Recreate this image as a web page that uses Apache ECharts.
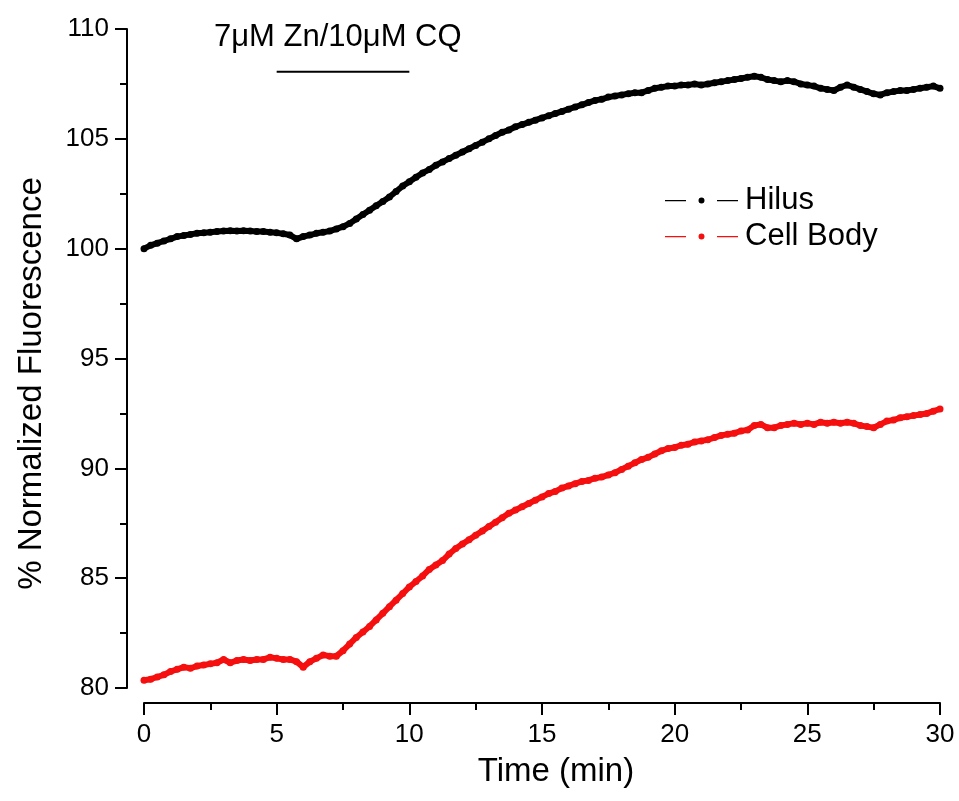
<!DOCTYPE html>
<html>
<head>
<meta charset="utf-8">
<script src="https://cdn.jsdelivr.net/npm/echarts@6/dist/echarts.min.js"></script>
<style>html,body{margin:0;padding:0;background:#fff}#c{width:959px;height:801px}</style>
</head>
<body>
<div id="c"></div>
<script>
// time step of samples (min)
const times = [];
for (let i = 0; i <= 120; i++) times.push(i * 0.25);

const hilus = [
 100.0,100.15,100.25,100.35,100.45,100.55,100.6,100.65,100.7,100.72,
 100.75,100.78,100.8,100.82,100.8,100.82,100.8,100.78,100.78,100.75,
 100.72,100.68,100.62,100.45,100.55,100.62,100.7,100.75,100.8,100.9,
 101.0,101.15,101.35,101.55,101.75,101.95,102.15,102.35,102.6,102.85,
 103.05,103.25,103.45,103.6,103.8,103.95,104.1,104.25,104.4,104.55,
 104.7,104.85,105.0,105.15,105.3,105.4,105.55,105.65,105.75,105.85,
 105.95,106.05,106.15,106.25,106.35,106.45,106.55,106.65,106.75,106.8,
 106.9,106.95,107.0,107.05,107.1,107.1,107.2,107.3,107.35,107.4,
 107.4,107.45,107.45,107.5,107.45,107.5,107.55,107.6,107.65,107.7,
 107.75,107.8,107.85,107.8,107.7,107.65,107.6,107.65,107.6,107.5,
 107.45,107.4,107.3,107.25,107.2,107.35,107.45,107.35,107.25,107.15,
 107.05,107.0,107.1,107.15,107.2,107.2,107.25,107.3,107.35,107.4,
 107.3
];
const cellBody = [
 80.35,80.4,80.5,80.6,80.75,80.85,80.95,80.9,81.0,81.05,
 81.1,81.15,81.3,81.15,81.25,81.3,81.25,81.3,81.3,81.4,
 81.35,81.3,81.3,81.2,80.95,81.2,81.35,81.5,81.45,81.45,
 81.7,82.0,82.3,82.55,82.8,83.1,83.4,83.7,84.0,84.3,
 84.6,84.85,85.1,85.4,85.6,85.8,86.1,86.35,86.55,86.75,
 86.95,87.15,87.35,87.55,87.75,87.95,88.1,88.25,88.4,88.55,
 88.7,88.85,88.95,89.1,89.2,89.3,89.4,89.45,89.55,89.6,
 89.7,89.8,89.95,90.1,90.25,90.4,90.5,90.65,90.8,90.9,
 90.95,91.05,91.1,91.2,91.25,91.3,91.4,91.5,91.55,91.6,
 91.7,91.75,91.95,92.0,91.85,91.85,91.95,92.0,92.05,92.0,
 92.05,92.0,92.1,92.05,92.1,92.05,92.1,92.05,91.95,91.9,
 91.85,92.0,92.15,92.2,92.3,92.35,92.4,92.45,92.5,92.6,
 92.7
];
// stimulus bar (min) and its level
const stimTimes = [5, 10];
const stimLevel = 108.05;
const stimText = '7\u03bcM Zn/10\u03bcM CQ';
const seriesNames = ['Hilus', 'Cell Body'];

const FONT = '"Liberation Sans", Arial, sans-serif';
const legendIcon = 'path://M0,3.4h21v1.3h-21z M33.5,4a3,3 0 1,0 6,0a3,3 0 1,0 -6,0z M52,3.4h21v1.3h-21z';

function pair(xs, ys) { return xs.map((x, i) => [x, ys[i]]); }

const chart = echarts.init(document.getElementById('c'), null, {renderer: 'canvas'});
const axisCommon = {
  axisLine: {show: true, onZero: false, lineStyle: {color: '#000', width: 2}},
  axisTick: {show: true, inside: false, length: 12, lineStyle: {color: '#000', width: 2}},
  minorTick: {show: true, splitNumber: 2, length: 7, lineStyle: {color: '#000', width: 2}},
  splitLine: {show: false},
  axisLabel: {color: '#000', fontSize: 26, fontFamily: FONT},
  nameTextStyle: {color: '#000', fontSize: 33, fontFamily: FONT}
};
chart.setOption({
  animation: false,
  backgroundColor: '#fff',
  grid: {left: 144, right: 19, top: 29, bottom: 113, containLabel: false},
  xAxis: Object.assign({}, axisCommon, {
    type: 'value', min: 0, max: 30, interval: 5, offset: 15,
    name: 'Time (min)', nameLocation: 'middle', nameGap: 52,
    nameTextStyle: Object.assign({}, axisCommon.nameTextStyle, {padding: [0, 0, 0, 28]}),
    axisLabel: Object.assign({}, axisCommon.axisLabel, {margin: 19})
  }),
  yAxis: Object.assign({}, axisCommon, {
    type: 'value', min: 80, max: 110, interval: 5, offset: 17,
    name: '% Normalized Fluorescence', nameLocation: 'middle', nameGap: 79, nameRotate: 90,
    nameTextStyle: Object.assign({}, axisCommon.nameTextStyle, {padding: [0, 50, 0, 0]}),
    axisLabel: Object.assign({}, axisCommon.axisLabel, {margin: 18})
  }),
  legend: {
    orient: 'vertical', left: 660, top: 180, itemGap: 5,
    itemWidth: 73, itemHeight: 6,
    textStyle: {color: '#000', fontSize: 31, fontFamily: FONT, padding: [0, 0, 0, 2]},
    data: [{name: seriesNames[0], icon: legendIcon}, {name: seriesNames[1], icon: legendIcon}],
    selectedMode: false
  },
  graphic: [{
    type: 'text', left: 214, top: 22,
    style: {text: stimText, fill: '#000', font: '31px ' + FONT}
  }],
  series: [
    {
      name: seriesNames[0], type: 'line', data: pair(times, hilus),
      color: '#000', lineStyle: {width: 6, color: '#000'},
      symbol: 'circle', symbolSize: 7, showSymbol: true, showAllSymbol: true,
      itemStyle: {color: '#000'}, z: 3
    },
    {
      name: seriesNames[1], type: 'line', data: pair(times, cellBody),
      color: '#f50f0f', lineStyle: {width: 6, color: '#f50f0f'},
      symbol: 'circle', symbolSize: 7, showSymbol: true, showAllSymbol: true,
      itemStyle: {color: '#f50f0f'}, z: 3
    },
    {
      name: 'stim', type: 'line', data: pair(stimTimes, [stimLevel, stimLevel]),
      lineStyle: {width: 2, color: '#000'}, symbol: 'none', z: 2
    }
  ]
});
</script>
</body>
</html>
